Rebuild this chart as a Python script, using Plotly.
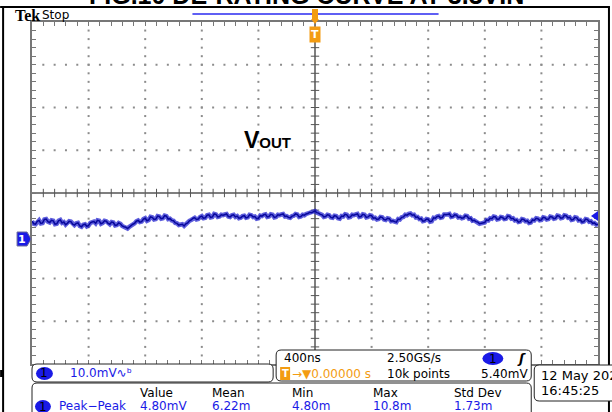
import plotly.graph_objects as go

# ---- scope settings ----
ns_per_div = 400
mv_per_div = 10.0
ch1_pos_div = -1.07            # ground marker below screen centre
sample_step_ns = 12.5

# ---- CH1 Vout ripple, mV ----
# main samples, every 25 ns
vout_mv = [
    4.1, 3.4, 4.3, 3.7, 4.6, 3.8, 4.2, 3.5, 4.4, 3.9,
    3.6, 4.0, 3.2, 3.7, 2.8, 3.4, 3.1, 3.9, 3.6, 4.2,
    3.7, 4.1, 3.4, 3.8, 3.2, 3.5, 2.8, 2.4, 3.0, 3.6,
    4.3, 4.0, 4.8, 4.4, 5.0, 4.6, 5.2, 4.8, 5.3, 4.7,
    4.2, 3.6, 3.3, 3.0, 3.7, 4.4, 4.9, 4.6, 5.3, 4.9,
    5.6, 5.1, 5.7, 5.2, 5.5, 5.8, 5.1, 5.6, 5.3, 4.9,
    5.4, 5.0, 5.5, 5.2, 4.8, 5.3, 5.7, 5.2, 5.6, 5.1,
    5.5, 5.8, 5.3, 4.9, 5.4, 5.7, 5.2, 5.5, 5.9, 6.1,
    6.5, 6.0, 5.6, 5.2, 5.5, 4.9, 5.3, 4.7, 5.2, 5.6,
    5.1, 5.5, 5.8, 5.2, 5.6, 5.1, 5.4, 4.9, 4.6, 5.0,
    4.4, 4.7, 4.2, 3.9, 4.5, 5.1, 5.5, 5.9, 5.6, 5.1,
    4.7, 4.2, 4.5, 4.1, 4.8, 5.3, 5.0, 5.6, 5.8, 5.2,
    5.5, 5.1, 4.9, 5.3, 4.8, 4.3, 3.9, 3.6, 3.8, 4.3,
    4.7, 5.1, 4.6, 5.0, 4.7, 5.2, 4.8, 4.4, 4.0, 4.5,
    4.2, 3.8, 4.3, 4.7, 4.4, 4.9, 4.6, 5.1, 4.8, 5.3,
    4.9, 5.4, 5.0, 4.5, 4.9, 4.4, 4.0, 4.5, 4.1, 3.7,
    3.4,
]
# in-between samples (noise spikes between the main samples)
vout_mid_mv = [
    3.5, 4.1, 3.6, 4.5, 4.0, 4.3, 3.4, 4.2, 3.7, 3.3,
    4.1, 3.4, 3.6, 3.0, 3.3, 2.9, 3.7, 4.0, 4.3, 3.5,
    4.2, 3.6, 3.9, 3.1, 3.7, 3.0, 2.7, 2.8, 3.4, 4.1,
    3.9, 4.6, 4.2, 5.1, 4.5, 5.3, 4.7, 5.4, 4.6, 4.3,
    3.7, 3.2, 3.4, 3.5, 4.2, 4.8, 4.5, 5.1, 4.8, 5.5,
    5.0, 5.8, 5.1, 5.6, 5.7, 5.2, 5.5, 5.1, 4.8, 5.3,
    4.9, 5.6, 5.1, 4.7, 5.4, 5.6, 5.1, 5.7, 5.0, 5.6,
    5.7, 5.2, 5.0, 5.3, 5.8, 5.1, 5.6, 5.8, 6.2, 6.3,
    6.1, 5.7, 5.1, 5.6, 5.0, 5.4, 4.8, 5.3, 5.7, 5.0,
    5.6, 5.7, 5.1, 5.7, 5.0, 5.5, 4.8, 4.5, 5.1, 4.5,
    4.8, 4.1, 4.0, 4.6, 5.0, 5.6, 5.8, 5.5, 5.0, 4.6,
    4.1, 4.6, 4.0, 4.9, 5.2, 4.9, 5.7, 5.7, 5.1, 5.6,
    5.0, 4.8, 5.4, 4.7, 4.2, 4.0, 3.5, 3.7, 4.4, 4.8,
    5.2, 4.5, 5.1, 4.6, 5.3, 4.7, 4.3, 3.9, 4.6, 4.1,
    3.7, 4.4, 4.8, 4.3, 5.0, 4.5, 5.2, 4.7, 5.4, 4.8,
    5.5, 4.9, 4.4, 5.0, 4.3, 3.9, 4.6, 4.0, 3.6, 3.3,
]

trace_mv = []
for a, b in zip(vout_mv, vout_mid_mv):
    trace_mv += [a, b]
trace_mv.append(vout_mv[-1])
time_ns = [-5 * ns_per_div + sample_step_ns * i for i in range(len(trace_mv))]

trig_level_mv = 5.40
meas_headers = ["Value", "Mean", "Min", "Max", "Std Dev"]
meas_values = ["4.80mV", "6.22m", "4.80m", "10.8m", "1.73m"]

# ---- page geometry (pixels) ----
W, H = 612, 412
L, R, T, B = 32, 600, 22, 364
BLUE = "#1a1ae6"
ORANGE = "#f39c12"

center_mv = -ch1_pos_div * mv_per_div
x_rng = [-5 * ns_per_div, 5 * ns_per_div]
y_rng = [center_mv - 4 * mv_per_div, center_mv + 4 * mv_per_div]


def px(x):
    return (x - L) / (R - L)


def py(y):
    return (B - y) / (B - T)


def poly(points):
    return "M " + " L ".join(f"{px(x):.5f},{py(y):.5f}" for x, y in points) + " Z"


def rrect(x0, y0, x1, y1, r=5):
    rx, ry = r / (R - L), r / (B - T)
    X0, X1, Y0, Y1 = px(x0), px(x1), py(y0), py(y1)
    return (f"M {X0+rx},{Y0} L {X1-rx},{Y0} Q {X1},{Y0} {X1},{Y0-ry} "
            f"L {X1},{Y1+ry} Q {X1},{Y1} {X1-rx},{Y1} L {X0+rx},{Y1} "
            f"Q {X0},{Y1} {X0},{Y1+ry} L {X0},{Y0-ry} Q {X0},{Y0} {X0+rx},{Y0} Z")


fig = go.Figure()

# graticule dots
gx, gy = [], []
for k in range(-4, 5):
    if k == 0:
        continue
    for j in range(-19, 20):
        gx.append(k * ns_per_div)
        gy.append(center_mv + j * mv_per_div / 5)
for m in range(-3, 4):
    if m == 0:
        continue
    for j in range(-24, 25):
        gx.append(j * ns_per_div / 5)
        gy.append(center_mv + m * mv_per_div)
fig.add_trace(go.Scatter(x=gx, y=gy, mode="markers", hoverinfo="skip",
                         marker=dict(symbol="square", size=2, color="#8c8c8c")))

# centre crosshair ticks
cx = [j * ns_per_div / 5 for j in range(-24, 25)]
fig.add_trace(go.Scatter(x=cx, y=[center_mv] * len(cx), mode="markers", hoverinfo="skip",
                         marker=dict(symbol="line-ns", size=6, line=dict(width=1, color="#555"))))
cy = [center_mv + j * mv_per_div / 5 for j in range(-19, 20)]
fig.add_trace(go.Scatter(x=[0] * len(cy), y=cy, mode="markers", hoverinfo="skip",
                         marker=dict(symbol="line-ew", size=6, line=dict(width=1, color="#555"))))

# waveform
fig.add_trace(go.Scatter(x=time_ns, y=trace_mv, mode="lines", hoverinfo="skip",
                         line=dict(color="rgba(25,25,205,0.7)", width=4.5)))
fig.add_trace(go.Scatter(x=time_ns, y=trace_mv, mode="lines", hoverinfo="skip",
                         line=dict(color="#08089c", width=1.5)))

shapes = [
    dict(type="line", xref="x", yref="y", x0=0, x1=0, y0=y_rng[0], y1=y_rng[1],
         line=dict(color="#555", width=1.5), layer="below"),
    dict(type="line", xref="x", yref="y", x0=x_rng[0], x1=x_rng[1], y0=center_mv, y1=center_mv,
         line=dict(color="#555", width=1.5), layer="below"),
    # page frame
    dict(type="line", xref="paper", yref="paper", x0=px(0), x1=px(612), y0=py(7), y1=py(7),
         line=dict(color="black", width=2)),
    dict(type="line", xref="paper", yref="paper", x0=px(3), x1=px(3), y0=py(7), y1=py(412),
         line=dict(color="black", width=2)),
    dict(type="line", xref="paper", yref="paper", x0=px(611), x1=px(611), y0=py(7), y1=py(412),
         line=dict(color="black", width=2)),
    dict(type="rect", xref="paper", yref="paper", x0=px(0), x1=px(3), y0=py(370), y1=py(377),
         fillcolor="black", line=dict(width=0)),
    # record bar + trigger position
    dict(type="line", xref="paper", yref="paper", x0=px(193), x1=px(440), y0=py(14), y1=py(14),
         line=dict(color="#2a2af0", width=1.5)),
    dict(type="path", xref="paper", yref="paper",
         path=poly([(313, 9), (319, 9), (319, 19), (320, 19), (316, 24), (312, 19), (313, 19)]),
         fillcolor=ORANGE, line=dict(width=0)),
    # ground marker and trigger level arrow
    dict(type="path", xref="paper", yref="paper",
         path=poly([(17, 232), (27, 232), (31, 239), (27, 246), (17, 246)]),
         fillcolor=BLUE, line=dict(color="#6a6a9a", width=1)),
    dict(type="path", xref="paper", yref="paper",
         path=poly([(593, 216), (600, 211), (600, 221)]),
         fillcolor=BLUE, line=dict(width=0)),
    # readout boxes
    dict(type="path", xref="paper", yref="paper", path=rrect(32, 364, 274, 382),
         fillcolor="white", line=dict(color="#222", width=1), layer="above"),
    dict(type="path", xref="paper", yref="paper", path=rrect(277, 350, 533, 381),
         fillcolor="white", line=dict(color="#222", width=1), layer="above"),
    dict(type="path", xref="paper", yref="paper", path=rrect(536, 365, 620, 401),
         fillcolor="white", line=dict(color="#222", width=1), layer="above"),
    dict(type="path", xref="paper", yref="paper", path=rrect(32, 383, 533, 420),
         fillcolor="white", line=dict(color="#222", width=1), layer="above"),
    # channel ellipses
    dict(type="circle", xref="paper", yref="paper", x0=px(36), x1=px(53), y0=py(367), y1=py(380),
         fillcolor=BLUE, line=dict(width=0), layer="above"),
    dict(type="circle", xref="paper", yref="paper", x0=px(484), x1=px(505), y0=py(352), y1=py(365),
         fillcolor=BLUE, line=dict(width=0), layer="above"),
    dict(type="circle", xref="paper", yref="paper", x0=px(35), x1=px(51), y0=py(400), y1=py(413),
         fillcolor=BLUE, line=dict(width=0), layer="above"),
    dict(type="rect", xref="paper", yref="paper", x0=px(281), x1=px(291), y0=py(367), y1=py(380),
         fillcolor=ORANGE, line=dict(width=0), layer="above"),
]

FONT = "DejaVu Sans"


def txt(x, y, s, size=12, color="black", anchor="left", family=FONT, **kw):
    return dict(xref="paper", yref="paper", x=px(x), y=py(y), text=s, showarrow=False,
                xanchor=anchor, yanchor="middle", font=dict(family=family, size=size, color=color), **kw)


ann = [
    dict(xref="paper", yref="paper", x=px(307), y=py(11), text="<b>FIG.10 DE-RATING CURVE AT 3.3VIN</b>",
         showarrow=False, xanchor="center", yanchor="bottom",
         font=dict(family="Liberation Sans", size=25, color="black")),
    txt(13, 15, "<b>Tek</b>", size=16, family="Liberation Serif"),
    txt(40, 15, "Stop", size=12),
    txt(316, 34, "<b>T</b>", size=11, color="white", anchor="center", bgcolor=ORANGE, borderpad=1),
    txt(22, 239, "<b>1</b>", size=11, color="white", anchor="center"),
    txt(243, 140, "<b>V<span style='font-size:15px'>OUT</span></b>", size=23, family="Liberation Sans"),
    # channel box
    txt(44.5, 373.5, "1", size=12, anchor="center"),
    txt(68, 373, "10.0mV∿ᵇ", size=12, color=BLUE),
    # timebase box
    txt(283, 358, "400ns", size=12),
    txt(386, 358, "2.50GS/s", size=12),
    txt(494.5, 358.5, "1", size=12, anchor="center"),
    txt(517, 358, "<b><i>ʃ</i></b>", size=13),
    txt(286, 373.5, "<b>T</b>", size=10, color="white", anchor="center"),
    txt(291, 374, "→▼0.00000 s", size=12, color=ORANGE),
    txt(386, 374, "10k points", size=12),
    txt(481, 374, "5.40mV", size=12),
    # date box
    txt(541, 375, "12 May 2020", size=13),
    txt(541, 390, "16:45:25", size=13),
    # measurements
    txt(43, 406.5, "1", size=12, anchor="center"),
    txt(57, 406, "Peak−Peak", size=12, color=BLUE),
]
meas_x = [138, 211, 291, 372, 453]
for xx, h, v in zip(meas_x, meas_headers, meas_values):
    ann.append(txt(xx, 393, h, size=12))
    ann.append(txt(xx, 406, v, size=12, color=BLUE))

fig.update_layout(
    width=W, height=H, autosize=False,
    margin=dict(l=L, r=W - R, t=T, b=H - B),
    paper_bgcolor="white", plot_bgcolor="white",
    showlegend=False,
    shapes=shapes, annotations=ann,
    xaxis=dict(range=x_rng, showgrid=False, zeroline=False, showticklabels=False,
               ticks="inside", tick0=x_rng[0], dtick=ns_per_div / 5, ticklen=4, tickcolor="#777",
               showline=True, linecolor="#777", linewidth=2, mirror="allticks", fixedrange=True),
    yaxis=dict(range=y_rng, showgrid=False, zeroline=False, showticklabels=False,
               ticks="inside", tick0=center_mv, dtick=mv_per_div / 5, ticklen=4, tickcolor="#777",
               showline=True, linecolor="#777", linewidth=2, mirror="allticks", fixedrange=True),
)

fig.write_html("out.html", config={"displayModeBar": False},
               post_script="document.body.style.margin='0';")
